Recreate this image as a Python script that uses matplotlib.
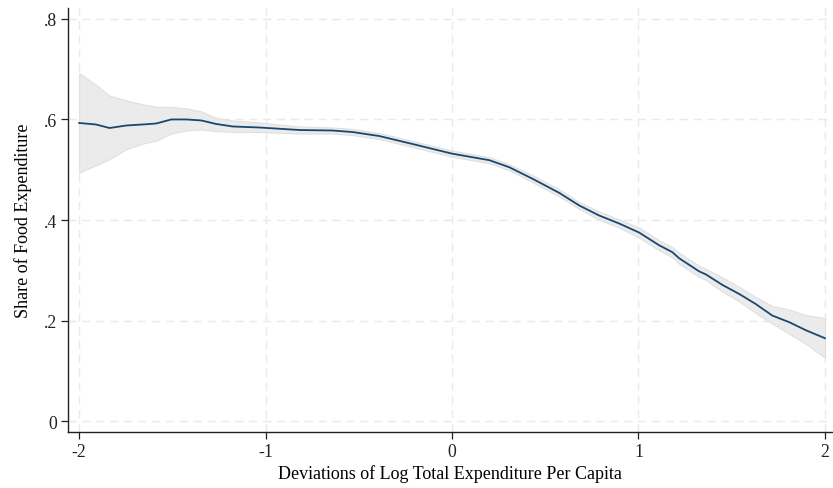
import numpy as np
import matplotlib.pyplot as plt

plt.rcParams['font.family'] = ['Liberation Serif', 'DejaVu Serif']

# deviations of log total expenditure per capita
dev = [-2.0, -1.91, -1.837, -1.747, -1.658, -1.586, -1.506, -1.425, -1.345,
       -1.265, -1.176, -1.033, -0.818, -0.641, -0.534, -0.39, -0.21, 0.0,
       0.2, 0.307, 0.432, 0.575, 0.682, 0.789, 0.897, 1.004, 1.11, 1.182,
       1.218, 1.325, 1.361, 1.45, 1.54, 1.629, 1.718, 1.808, 1.897, 2.0]
share = [0.593, 0.590, 0.583, 0.588, 0.590, 0.592, 0.600, 0.600, 0.598,
         0.591, 0.586, 0.584, 0.579, 0.578, 0.575, 0.567, 0.551, 0.532,
         0.519, 0.505, 0.482, 0.454, 0.429, 0.409, 0.393, 0.375, 0.350, 0.336,
         0.324, 0.298, 0.292, 0.271, 0.253, 0.233, 0.210, 0.197, 0.181, 0.165]
ci_hi = [0.692, 0.669, 0.647, 0.638, 0.630, 0.625, 0.625, 0.622, 0.616,
         0.603, 0.598, 0.594, 0.586, 0.584, 0.581, 0.573, 0.557, 0.538,
         0.525, 0.511, 0.489, 0.461, 0.436, 0.417, 0.401, 0.385, 0.360, 0.346,
         0.335, 0.309, 0.303, 0.286, 0.267, 0.247, 0.229, 0.222, 0.211, 0.205]
ci_lo = [0.494, 0.509, 0.521, 0.541, 0.552, 0.558, 0.572, 0.578, 0.580,
         0.577, 0.575, 0.575, 0.572, 0.572, 0.569, 0.561, 0.545, 0.526,
         0.513, 0.499, 0.475, 0.447, 0.422, 0.401, 0.385, 0.365, 0.340, 0.326,
         0.313, 0.287, 0.281, 0.258, 0.238, 0.215, 0.194, 0.174, 0.154, 0.126]

xticks = [-2, -1, 0, 1, 2]
yticks = [0, 0.2, 0.4, 0.6, 0.8]
ylabels = ['0', '.2', '.4', '.6', '.8']

fig = plt.figure(figsize=(8.33, 4.89), dpi=100)
ax = fig.add_axes([0.0816, 0.115, 0.917, 0.867])

ax.fill_between(dev, ci_lo, ci_hi, color='#ebebeb', edgecolor='#e0e0e0', lw=0.8, zorder=2)
ax.plot(dev, share, color='#1a476f', lw=1.3, zorder=3)

ax.set_xlim(-2.06, 2.037)
ax.set_ylim(-0.021, 0.822)
ax.set_xticks(xticks)
ax.set_xticklabels([str(t) for t in xticks])
ax.set_yticks(yticks)
ax.set_yticklabels(ylabels)

ax.grid(True, color='#eaeaea', ls=(0, (6, 4)), lw=1.0, zorder=0)
for s in ['top', 'right']:
    ax.spines[s].set_visible(False)
for s in ['left', 'bottom']:
    ax.spines[s].set_linewidth(1.0)
    ax.spines[s].set_color('#222222')
ax.tick_params(direction='out', length=4.8, width=0.9, colors='#222222', labelsize=12.8, pad=3)

ax.set_xlabel('Deviations of Log Total Expenditure Per Capita', fontsize=13, labelpad=3)
ax.set_ylabel('Share of Food Expenditure', fontsize=13, labelpad=8.5)

fig.savefig('out.png', dpi=100)
